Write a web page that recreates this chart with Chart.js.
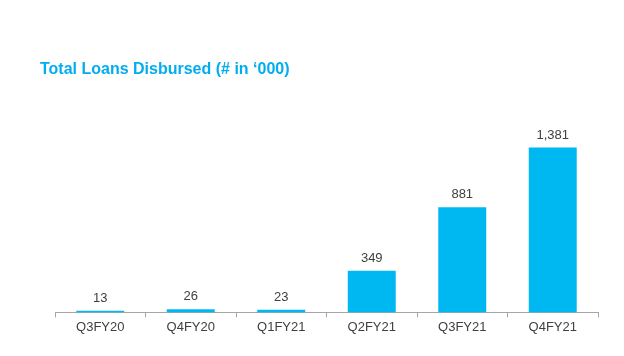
<!DOCTYPE html>
<html>
<head>
<meta charset="utf-8">
<script src="https://cdn.jsdelivr.net/npm/chart.js@4.4.0/dist/chart.umd.min.js"></script>
<style>
  html, body { margin: 0; padding: 0; background: #ffffff; }
  #wrap { width: 624px; height: 356px; }
</style>
</head>
<body>
<div id="wrap"><canvas id="c" width="624" height="356"></canvas></div>
<script>
const categories = ["Q3FY20", "Q4FY20", "Q1FY21", "Q2FY21", "Q3FY21", "Q4FY21"];
const loansDisbursed = [13, 26, 23, 349, 881, 1381];
const titleText = "Total Loans Disbursed (# in \u2018000)";

const valueLabels = {
  id: 'valueLabels',
  afterDatasetsDraw(chart) {
    const ctx = chart.ctx;
    const meta = chart.getDatasetMeta(0);
    ctx.save();
    ctx.font = '13px "Liberation Sans", Arial, sans-serif';
    ctx.fillStyle = '#404040';
    ctx.textAlign = 'center';
    ctx.textBaseline = 'bottom';
    meta.data.forEach((bar, i) => {
      const v = chart.data.datasets[0].data[i];
      ctx.fillText(v.toLocaleString('en-US'), bar.x, bar.y - 6);
    });
    ctx.restore();
  }
};

new Chart(document.getElementById('c'), {
  type: 'bar',
  data: {
    labels: categories,
    datasets: [{
      data: loansDisbursed,
      backgroundColor: '#00B8F1',
      borderWidth: 0,
      barPercentage: 0.53,
      categoryPercentage: 1.0
    }]
  },
  options: {
    responsive: false,
    animation: false,
    layout: { padding: { left: 40, right: 26, top: 60, bottom: 19 } },
    plugins: {
      legend: { display: false },
      tooltip: { enabled: false },
      title: {
        display: true,
        text: titleText,
        align: 'start',
        color: '#00AEEF',
        font: { family: '"Liberation Sans", Arial, sans-serif', size: 16, weight: 'bold' },
        padding: { top: 0, bottom: 20 }
      }
    },
    scales: {
      x: {
        grid: { display: true, drawOnChartArea: false, drawTicks: true, tickLength: 5, color: '#A6A6A6', offset: true },
        border: { display: true, color: '#A6A6A6', width: 1 },
        ticks: { color: '#404040', font: { family: '"Liberation Sans", Arial, sans-serif', size: 13 }, padding: 2 }
      },
      y: {
        display: true,
        min: 0,
        max: 1785,
        grid: { display: false },
        border: { display: false },
        ticks: { display: false },
        afterFit(scale) { scale.width = 15; }
      }
    }
  },
  plugins: [valueLabels]
});
</script>
</body>
</html>
